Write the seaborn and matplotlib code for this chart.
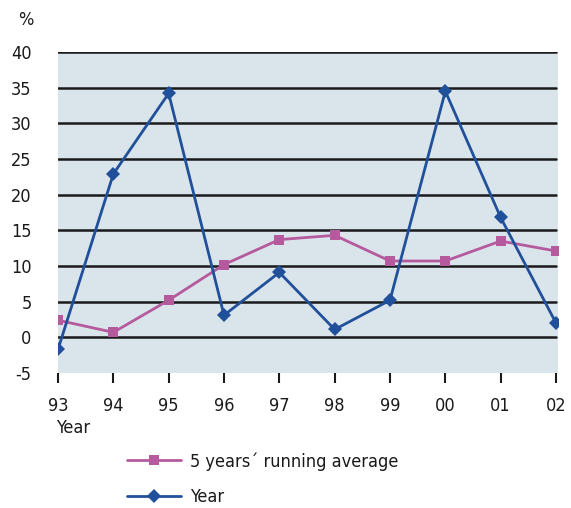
import matplotlib
matplotlib.use("Agg")
import matplotlib.pyplot as plt
import seaborn as sns
import pandas as pd
from matplotlib.lines import Line2D

years = ["93", "94", "95", "96", "97", "98", "99", "00", "01", "02"]
year_values = [-1.7, 22.9, 34.2, 3.1, 9.1, 1.1, 5.2, 34.5, 16.8, 2.0]
running_avg = [2.4, 0.7, 5.2, 10.2, 13.7, 14.3, 10.7, 10.7, 13.5, 12.1]
y_ticks = [-5, 0, 5, 10, 15, 20, 25, 30, 35, 40]

sns.set_theme(style="white")
plt.rcParams["font.family"] = ["DejaVu Sans"]
plt.rcParams["font.stretch"] = "condensed"
plt.rcParams["text.color"] = "#1a1a1a"
plt.rcParams["xtick.color"] = "#1a1a1a"
plt.rcParams["ytick.color"] = "#1a1a1a"

blue = "#21509a"
pink = "#b65a9e"
avg_name = "5 years\u00b4 running average"

df = pd.DataFrame({
    "pos": list(range(len(years))) * 2,
    "value": running_avg + year_values,
    "series": [avg_name] * len(years) + ["Year"] * len(years),
})

fig = plt.figure(figsize=(5.71, 5.08), dpi=100)
ax = fig.add_axes([58 / 571, 1 - 373 / 508, 500 / 571, 321 / 508])
ax.set_facecolor("#dae4eb")

for y in y_ticks[1:]:
    ax.axhline(y, color="#1a1a1a", lw=1.8, xmax=9.0 / 9.036, zorder=1)

sns.lineplot(data=df, x="pos", y="value", hue="series", style="series",
             palette={avg_name: pink, "Year": blue},
             markers={avg_name: "s", "Year": "D"},
             dashes=False, markersize=6.5, markeredgewidth=0, linewidth=2,
             ax=ax, zorder=3, legend=False)
# diamonds slightly larger than the squares
for line in ax.get_lines():
    if line.get_marker() == "D":
        line.set_markersize(7)

ax.set_xlim(0, 9.036)
ax.set_ylim(-5, 40)
ax.set_xticks(range(len(years)))
ax.set_xticklabels(years)
ax.set_yticks(y_ticks)
ax.set_yticklabels([str(v) for v in y_ticks])
ax.set_xlabel("")
ax.set_ylabel("")
for s in ax.spines.values():
    s.set_visible(False)
ax.tick_params(axis="x", bottom=True, length=7, width=1.5, color="#1a1a1a",
               pad=10, labelsize=13, direction="out")
ax.tick_params(axis="y", left=False, pad=13, labelsize=13)

fig.text(56 / 571, 1 - 428 / 508, "Year", fontsize=13, va="center", ha="left")
fig.text(18 / 571, 1 - 20 / 508, "%", fontsize=13, va="center", ha="left")

handles = [
    Line2D([], [], color=pink, lw=2, marker="s", markersize=6.5, markeredgewidth=0),
    Line2D([], [], color=blue, lw=2, marker="D", markersize=7, markeredgewidth=0),
]
fig.legend(handles, [avg_name, "Year"],
           loc="upper left", bbox_to_anchor=(111 / 571, 1 - 436 / 508),
           frameon=False, fontsize=13, handlelength=3.0, handletextpad=0.5,
           labelspacing=0.95)

fig.savefig("out.png", dpi=100)
